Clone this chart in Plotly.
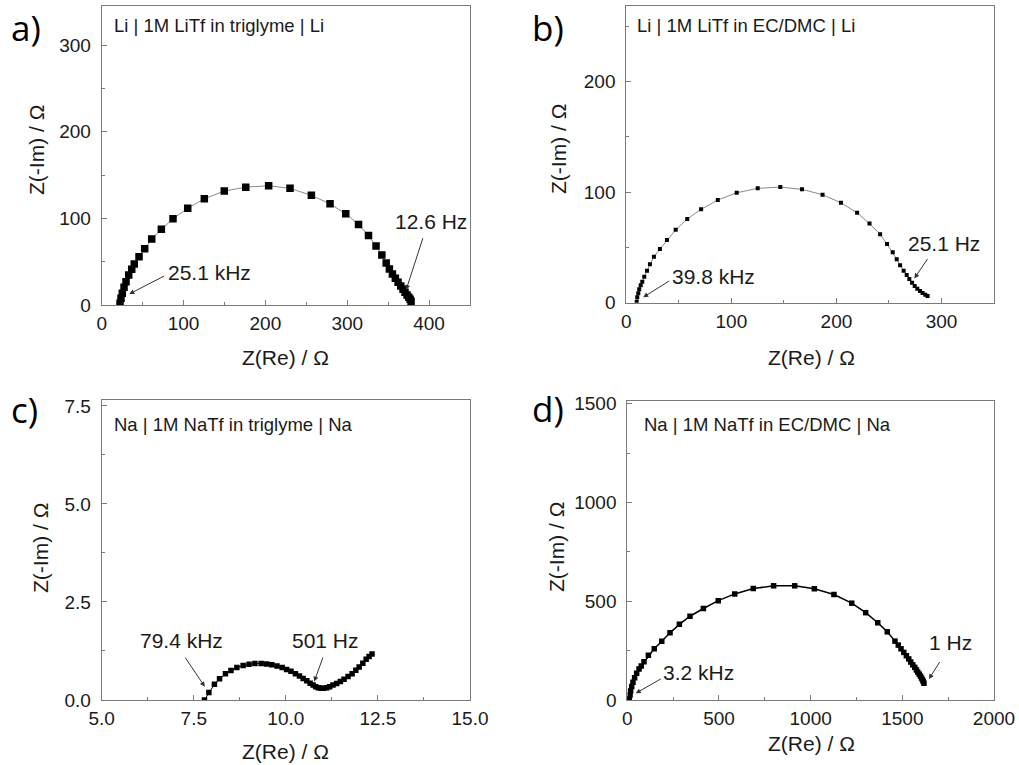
import plotly.graph_objects as go

# ---------------- data ----------------
# a) Li | 1M LiTf in triglyme | Li
a_re = [22.4, 23.6, 25.2, 27.3, 29.7, 33.0, 36.7, 39.8, 45.6, 52.5, 61.1, 72.9, 87.1, 105.1,
        125.4, 149.8, 176.0, 204.0, 230.1, 256.2, 279.0, 298.2, 313.8, 326.0, 335.2, 342.3,
        347.6, 351.5, 355.2, 358.8, 362.1, 365.4, 368.2, 370.6, 373.1, 375.2, 376.8, 378.0]
a_im = [2.0, 7.7, 13.5, 20.4, 26.9, 34.6, 41.2, 47.3, 55.7, 64.9, 76.1, 87.3, 99.5, 111.5,
        122.6, 131.4, 136.0, 137.6, 134.6, 126.5, 116.7, 105.2, 93.0, 80.1, 68.0, 57.7,
        48.5, 41.5, 35.8, 30.8, 26.2, 21.9, 18.1, 14.6, 11.5, 8.9, 6.6, 4.3]

# b) Li | 1M LiTf in EC/DMC | Li
b_re = [9.9, 10.4, 11.4, 12.3, 13.7, 15.2, 17.1, 19.7, 22.5, 26.3, 32.0, 38.7, 47.0, 58.0,
        71.2, 87.1, 105.1, 125.1, 146.6, 167.2, 186.8, 204.3, 219.7, 231.5, 241.6, 248.2,
        253.6, 257.4, 260.6, 264.0, 266.9, 269.4, 272.0, 274.5, 277.0, 279.6, 282.0, 284.6, 286.8]
b_im = [0.9, 4.9, 8.5, 12.1, 15.7, 19.0, 23.5, 29.0, 34.7, 41.6, 48.5, 56.8, 66.0, 75.7,
        84.5, 92.9, 99.5, 103.5, 104.6, 102.6, 97.7, 90.5, 81.4, 71.6, 61.9, 53.1,
        45.6, 39.3, 33.8, 29.0, 25.1, 21.4, 18.1, 15.1, 12.7, 10.6, 8.8, 7.2, 6.1]

# c) Na | 1M NaTf in triglyme | Na
c_re = [7.79, 7.91, 8.06, 8.20, 8.36, 8.51, 8.67, 8.84, 9.00, 9.16, 9.33, 9.48, 9.62, 9.76,
        9.90, 10.02, 10.14, 10.26, 10.37, 10.47, 10.57, 10.66, 10.74, 10.81, 10.88, 10.95,
        11.03, 11.11, 11.19, 11.28, 11.38, 11.48, 11.58, 11.69, 11.80, 11.90, 11.99, 12.09,
        12.18, 12.26, 12.34]
c_im = [0.00, 0.19, 0.40, 0.54, 0.67, 0.75, 0.83, 0.88, 0.91, 0.93, 0.93, 0.92, 0.90, 0.87,
        0.83, 0.78, 0.73, 0.67, 0.61, 0.55, 0.49, 0.43, 0.38, 0.34, 0.31, 0.30,
        0.30, 0.31, 0.34, 0.38, 0.42, 0.47, 0.53, 0.60, 0.67, 0.76, 0.84, 0.94,
        1.04, 1.11, 1.17]

# d) Na | 1M NaTf in EC/DMC | Na
d_re = [8, 11, 15, 18, 24, 31, 40, 51, 64, 76, 91, 115, 147, 188, 233, 284, 342, 415, 496,
        586, 687, 798, 913, 1020, 1127, 1224, 1300, 1366, 1418, 1460, 1478, 1493, 1508, 1522,
        1535, 1546, 1557, 1568, 1577, 1584, 1592, 1599, 1605, 1610, 1614, 1618]
d_im = [2, 5, 25, 46, 68, 90, 112, 136, 157, 172, 193, 226, 260, 297, 340, 383, 424, 463, 503,
        537, 564, 578, 578, 563, 534, 490, 442, 391, 345, 298, 278, 259, 241, 224,
        208, 192, 178, 165, 152, 141, 131, 121, 111, 102, 94, 85]

panel_labels = ["a)", "b)", "c)", "d)"]
cell_texts = ["Li | 1M LiTf in triglyme | Li", "Li | 1M LiTf in EC/DMC | Li",
              "Na | 1M NaTf in triglyme | Na", "Na | 1M NaTf in EC/DMC | Na"]
freq_labels = [["25.1 kHz", "12.6 Hz"], ["39.8 kHz", "25.1 Hz"],
               ["79.4 kHz", "501 Hz"], ["3.2 kHz", "1 Hz"]]
x_title = "Z(Re) / Ω"
y_title = "Z(-Im) / Ω"

# ---------------- figure ----------------
W, H = 1019, 765
FONT = "Liberation Sans, Arial, sans-serif"
AXC = "#7a7a7a"
TXT = "#1a1a1a"

fig = go.Figure()

fig.add_trace(go.Scatter(x=a_re, y=a_im, xaxis="x", yaxis="y", mode="lines+markers",
                         line=dict(color="#8a8a8a", width=1),
                         marker=dict(symbol="square", size=7.5, color="black"), showlegend=False))
fig.add_trace(go.Scatter(x=b_re, y=b_im, xaxis="x2", yaxis="y2", mode="lines+markers",
                         line=dict(color="#8a8a8a", width=1),
                         marker=dict(symbol="square", size=4, color="black"), showlegend=False))
fig.add_trace(go.Scatter(x=c_re, y=c_im, xaxis="x3", yaxis="y3", mode="lines+markers",
                         line=dict(color="black", width=1),
                         marker=dict(symbol="square", size=5.5, color="black"), showlegend=False))
fig.add_trace(go.Scatter(x=d_re, y=d_im, xaxis="x4", yaxis="y4", mode="lines+markers",
                         line=dict(color="black", width=1.5),
                         marker=dict(symbol="square", size=5.5, color="black"), showlegend=False))


def px_x(p):
    return p / W


def px_y(p):
    return 1 - p / H


def axis(domain, rng, dtick, mdtick, anchor, fmt=None, standoff=1, tick0=0):
    d = dict(domain=domain, range=rng, dtick=dtick, tick0=tick0, showgrid=False, zeroline=False,
             showline=True, linecolor=AXC, linewidth=1, mirror=True, automargin=False,
             ticks="inside", ticklen=5, tickwidth=1, tickcolor=AXC,
             minor=dict(ticks="inside", ticklen=3, tickwidth=1, tickcolor=AXC, dtick=mdtick,
                        showgrid=False),
             tickfont=dict(family=FONT, size=19, color=TXT), anchor=anchor,
             ticklabelstandoff=standoff)
    if fmt:
        d["tickformat"] = fmt
    return d


top = [px_y(305), px_y(6)]
top_b = [px_y(302.7), px_y(6)]
bot = [px_y(700), px_y(400)]
bot_d = [px_y(700), px_y(400.7)]
left = [px_x(101.7), px_x(470)]
right = [px_x(626.3), px_x(994)]
right_d = [px_x(627.3), px_x(994)]

fig.update_layout(
    template="none",
    width=W, height=H, margin=dict(l=0, r=0, t=0, b=0, pad=0, autoexpand=False),
    paper_bgcolor="white", plot_bgcolor="white",
    font=dict(family=FONT, color=TXT),
    xaxis=axis(left, [0, 450], 100, 50, "y"),
    yaxis=axis(top, [0, 345], 100, 50, "x", standoff=6),
    xaxis2=axis(right, [0, 350], 100, 50, "y2"),
    yaxis2=axis(top_b, [0, 268.5], 100, 50, "x2", standoff=6),
    xaxis3=axis(left, [5, 15], 2.5, 1.25, "y3", fmt=".1f", tick0=5),
    yaxis3=axis(bot, [0, 7.65], 2.5, 1.25, "x3", fmt=".1f", standoff=6),
    xaxis4=axis(right_d, [0, 2000], 500, 250, "y4"),
    yaxis4=axis(bot_d, [0, 1515], 500, 250, "x4", standoff=6),
)

ann = []
# panel labels
lab_pos = [(9, 28), (529.7, 28), (9, 409), (529.7, 408)]
for t, (x, y) in zip(panel_labels, lab_pos):
    ann.append(dict(text=t, xref="paper", yref="paper", x=px_x(x), y=px_y(y),
                    xanchor="left", yanchor="middle", showarrow=False,
                    font=dict(family="Open Sans, sans-serif", size=35, color="black")))
# cell description texts
cell_pos = [(111.7, 26), (635, 26), (111.7, 424), (641.5, 424)]
for t, (x, y) in zip(cell_texts, cell_pos):
    ann.append(dict(text=t, xref="paper", yref="paper", x=px_x(x), y=px_y(y),
                    xanchor="left", yanchor="middle", showarrow=False,
                    font=dict(family=FONT, size=18.5, color=TXT)))
# axis titles
xt_pos = [(285.8, 357), (811.5, 357), (285.8, 751), (811.5, 743)]
yt_pos = [(37, 150), (559, 149), (40, 548), (556, 547)]
for (x, y) in xt_pos:
    ann.append(dict(text=x_title, xref="paper", yref="paper", x=px_x(x), y=px_y(y),
                    xanchor="center", yanchor="middle", showarrow=False,
                    font=dict(family=FONT, size=21, color=TXT)))
for (x, y) in yt_pos:
    ann.append(dict(text=y_title, xref="paper", yref="paper", x=px_x(x), y=px_y(y),
                    xanchor="center", yanchor="middle", showarrow=False, textangle=-90,
                    font=dict(family=FONT, size=21, color=TXT)))

# frequency labels: (text centre, arrow tail, arrow tip) in data units of each panel
freq_geom = [
    [((132.3, 38), (78.2, 34.3), (33.7, 12.7)), ((402.2, 96), (393, 78.8), (371.9, 17.3))],
    [((83.3, 23.7), (42.2, 20.5), (16.1, 4.9)), ((302.7, 53.8), (287.7, 41), (274.2, 22))],
    [((7.17, 1.53), (7.24, 1.12), (7.80, 0.34)), ((11.09, 1.53), (11.02, 1.12), (10.77, 0.47))],
    [((391, 138), (191, 111), (46, 34)), ((1760, 291), (1709, 200), (1645, 106))],
]
axref = [("x", "y"), ("x2", "y2"), ("x3", "y3"), ("x4", "y4")]
for labels, geoms, (xr, yr) in zip(freq_labels, freq_geom, axref):
    for t, (c, tail, tip) in zip(labels, geoms):
        ann.append(dict(text=t, xref=xr, yref=yr, x=c[0], y=c[1], showarrow=False,
                        xanchor="center", yanchor="middle",
                        font=dict(family=FONT, size=21, color=TXT)))
        ann.append(dict(text="", xref=xr, yref=yr, x=tip[0], y=tip[1],
                        axref=xr, ayref=yr, ax=tail[0], ay=tail[1], showarrow=True,
                        arrowhead=2, arrowsize=1, arrowwidth=1, arrowcolor="#333333"))
fig.update_layout(annotations=ann)

fig.write_html("out.html", config={"displayModeBar": False},
               post_script="document.body.style.margin='0';")
